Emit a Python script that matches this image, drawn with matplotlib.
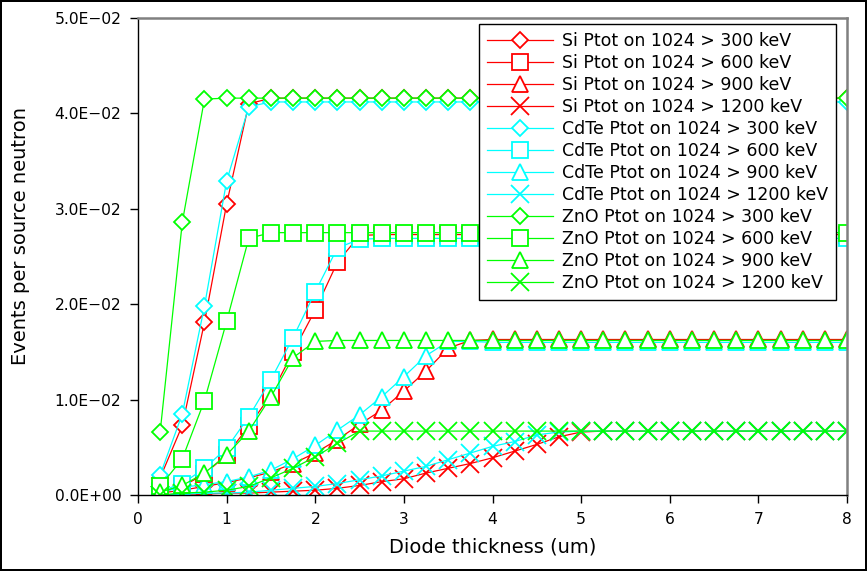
import matplotlib
matplotlib.use("Agg")
import matplotlib.pyplot as plt
from matplotlib.ticker import FuncFormatter, MultipleLocator

thickness = [0.25, 0.5, 0.75, 1.0, 1.25, 1.5, 1.75, 2.0, 2.25, 2.5, 2.75, 3.0,
             3.25, 3.5, 3.75, 4.0, 4.25, 4.5, 4.75, 5.0, 5.25, 5.5, 5.75, 6.0,
             6.25, 6.5, 6.75, 7.0, 7.25, 7.5, 7.75, 8.0]

si_300 = [0.0018, 0.0073, 0.0181, 0.0305, 0.0410, 0.0416] + [0.0416] * 26
si_600 = [0.0003, 0.0009, 0.0022, 0.0042, 0.0072, 0.0105, 0.0150, 0.0194,
          0.0244, 0.0272] + [0.0273] * 22
si_900 = [0.0002, 0.0005, 0.0009, 0.0013, 0.0018, 0.0024, 0.0033, 0.0044,
          0.0058, 0.0074, 0.0089, 0.0109, 0.0130, 0.0154, 0.0162] + [0.0163] * 17
si_1200 = [0.0000, 0.0001, 0.0001, 0.0002, 0.0002, 0.0003, 0.0004, 0.0005,
           0.0007, 0.0010, 0.0014, 0.0017, 0.0023, 0.0028, 0.0033, 0.0039,
           0.0046, 0.0053, 0.0061, 0.0066] + [0.0067] * 12

cdte_300 = [0.0021, 0.0085, 0.0198, 0.0329, 0.0407, 0.0412] + [0.0412] * 26
cdte_600 = [0.0004, 0.0012, 0.0028, 0.0049, 0.0082, 0.0121, 0.0165, 0.0213,
            0.0259, 0.0268] + [0.0269] * 22
cdte_900 = [0.0003, 0.0008, 0.0011, 0.0014, 0.0019, 0.0026, 0.0038, 0.0052,
            0.0068, 0.0084, 0.0103, 0.0124, 0.0146, 0.0161, 0.0161] + [0.0160] * 17
cdte_1200 = [0.0000, 0.0001, 0.0002, 0.0002, 0.0003, 0.0005, 0.0007, 0.0009,
             0.0012, 0.0016, 0.0020, 0.0025, 0.0030, 0.0037, 0.0044, 0.0051,
             0.0056, 0.0063, 0.0066] + [0.0067] * 13

zno_300 = [0.0066, 0.0286, 0.0415] + [0.0416] * 29
zno_600 = [0.0009, 0.0038, 0.0099, 0.0182, 0.0269, 0.0275] + [0.0275] * 26
zno_900 = [0.0003, 0.0010, 0.0023, 0.0042, 0.0067, 0.0103, 0.0144, 0.0161] + [0.0162] * 24
zno_1200 = [0.0000, 0.0002, 0.0003, 0.0005, 0.0009, 0.0018, 0.0028, 0.0040,
            0.0054, 0.0067] + [0.0067] * 22

materials = ["Si", "CdTe", "ZnO"]
thresholds = ["300", "600", "900", "1200"]
series = {
    "Si": [si_300, si_600, si_900, si_1200],
    "CdTe": [cdte_300, cdte_600, cdte_900, cdte_1200],
    "ZnO": [zno_300, zno_600, zno_900, zno_1200],
}
colors = {"Si": "#ff0000", "CdTe": "#00ffff", "ZnO": "#00ff00"}
markers = ["D", "s", "^", "x"]
msizes = [7.8, 11, 11.5, 13]

fig = plt.figure(figsize=(8.67, 5.71), dpi=100)
fig.patch.set_facecolor("white")
fig.patch.set_edgecolor("black")
fig.patch.set_linewidth(1.5)
ax = fig.add_axes([138 / 867, 76 / 571, 709 / 867, 477 / 571])

for mat in materials:
    for i, thr in enumerate(thresholds):
        ax.plot(thickness, series[mat][i], color=colors[mat], lw=0.9,
                marker=markers[i], markersize=msizes[i], markeredgewidth=1.3,
                markerfacecolor="white" if markers[i] != "x" else colors[mat],
                markeredgecolor=colors[mat],
                label=f"{mat} Ptot on 1024 > {thr} keV")

ax.set_xlim(0, 8)
ax.set_ylim(0, 0.05)
ax.xaxis.set_major_locator(MultipleLocator(1))
ax.yaxis.set_major_locator(MultipleLocator(0.01))
ax.yaxis.set_major_formatter(
    FuncFormatter(lambda v, p: f"{v:.1E}".replace("-", "\u2212")))

for s in ["left", "bottom"]:
    ax.spines[s].set_color("black")
    ax.spines[s].set_linewidth(1.0)
for s in ["top", "right"]:
    ax.spines[s].set_color("#808080")
    ax.spines[s].set_linewidth(1.8)

ax.tick_params(axis="both", direction="out", length=6, width=1.0,
               labelsize=11.2, pad=6, top=False, right=False)

ax.set_xlabel("Diode thickness (um)", fontsize=14, labelpad=8)
ax.set_ylabel("Events per source neutron", fontsize=14)
ax.yaxis.set_label_coords(-0.152, 0.543)

leg = ax.legend(loc="upper right", bbox_to_anchor=(0.9845, 0.9868),
                borderaxespad=0, fontsize=12.5, frameon=True, fancybox=False,
                framealpha=1, edgecolor="black", labelspacing=0.23,
                handlelength=3.8, handletextpad=0.52, borderpad=0.45)
leg.get_frame().set_linewidth(1.0)

fig.savefig("out.png", dpi=100, facecolor=fig.get_facecolor(),
            edgecolor=fig.get_edgecolor())
